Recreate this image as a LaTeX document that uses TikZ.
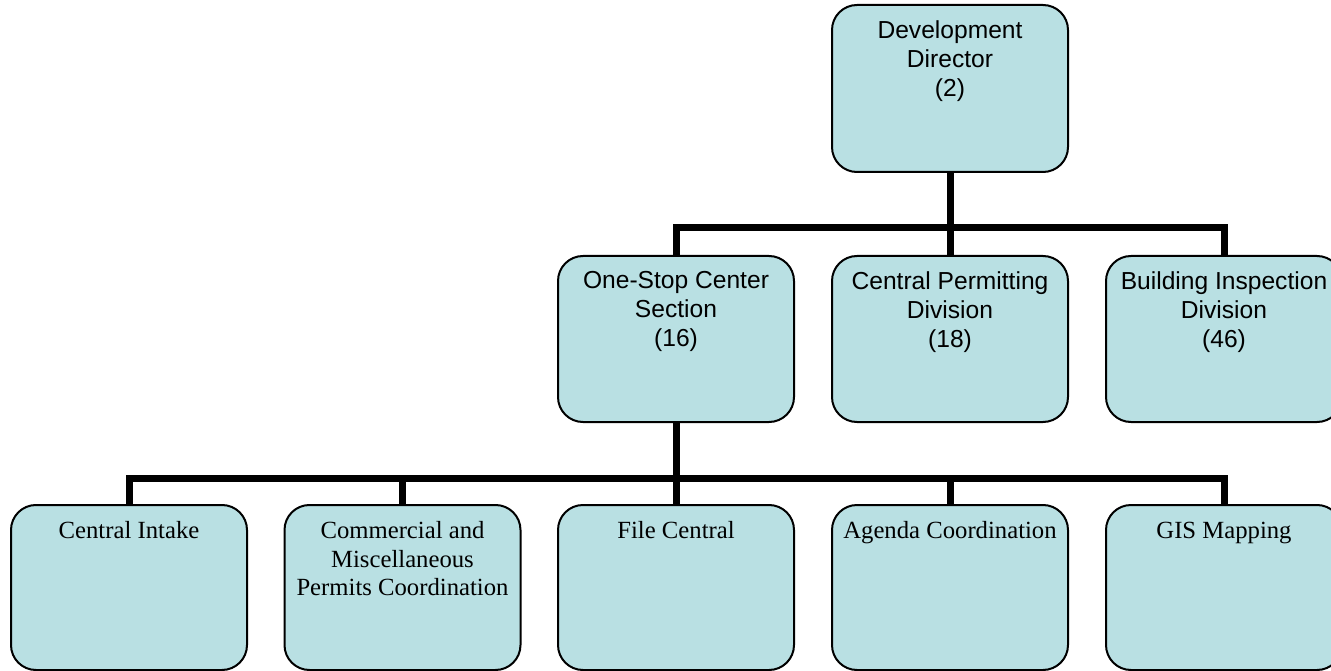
\documentclass[tikz,border=0pt]{standalone}
\usepackage{fontspec}
\setmainfont{Liberation Serif}
\newfontfamily\arialf{Liberation Sans}
\usetikzlibrary{backgrounds}
\definecolor{boxfill}{RGB}{185,224,227}
\tikzset{
  unit/.style={draw=black, line width=2pt, fill=boxfill, rounded corners=25pt,
               minimum width=236pt, inner sep=0pt},
  toprow/.style={unit, minimum height=167pt},
  midrow/.style={unit, minimum height=166pt},
  lowrow/.style={unit, minimum height=165pt},
  sanslbl/.style={anchor=north, inner sep=0pt, align=center,
                  font=\arialf\fontsize{24.6pt}{29pt}\selectfont},
  seriflbl/.style={anchor=north, inner sep=0pt, align=center,
                   font=\fontsize{24.7pt}{28.5pt}\selectfont},
  conn/.style={draw=black, line width=7pt}
}
\begin{document}
\begin{tikzpicture}[x=1pt, y=-1pt]
\useasboundingbox (0,0) rectangle (1331,671);

% director
\node[toprow] (dir) at (950,88.5) {};
\node[sanslbl] (dirT) at ([yshift=-16.5pt]dir.north) {Development\\Director\\(2)};

% divisions
\node[midrow] (oss) at (676,339) {};
\node[midrow] (cpd) at (950,339) {};
\node[midrow] (bid) at (1224,339) {};
\node[sanslbl] (ossT) at ([yshift=-16pt]oss.north) {One-Stop Center\\Section\\(16)};
\node[sanslbl] (cpdT) at ([yshift=-16pt]cpd.north) {Central Permitting\\Division\\(18)};
\node[sanslbl] (bidT) at ([yshift=-16pt]bid.north) {Building Inspection\\Division\\(46)};

% one-stop center units
\node[lowrow] (ci)  at (129,587.5) {};
\node[lowrow] (cm)  at (402.5,587.5) {};
\node[lowrow] (fc)  at (676,587.5) {};
\node[lowrow] (ac)  at (950,587.5) {};
\node[lowrow] (gis) at (1224,587.5) {};
\node[seriflbl] (ciT)  at ([yshift=-17.5pt]ci.north) {Central Intake};
\node[seriflbl] (cmT)  at ([yshift=-17.5pt]cm.north) {Commercial and\\Miscellaneous\\Permits Coordination};
\node[seriflbl] (fcT)  at ([yshift=-17.5pt]fc.north) {File Central};
\node[seriflbl] (acT)  at ([yshift=-17.5pt]ac.north) {Agenda Coordination};
\node[seriflbl] (gisT) at ([yshift=-17.5pt]gis.north) {GIS Mapping};

% junction points of the two buses
\coordinate (j1) at (950,228);
\coordinate (j2) at (676,478);

\begin{scope}[on background layer]
  \draw[conn] (dir.south) -- (j1);
  \draw[conn] (oss.north) |- (j1) -| (bid.north);
  \draw[conn] (j1) -- (cpd.north);
  \draw[conn] (oss.south) -- (j2);
  \draw[conn] (ci.north) |- (j2) -| (gis.north);
  \draw[conn] (j2) -- (fc.north);
  \draw[conn] (cm.north) -- (cm.north |- j2);
  \draw[conn] (ac.north) -- (ac.north |- j2);
\end{scope}
\end{tikzpicture}
\end{document}
